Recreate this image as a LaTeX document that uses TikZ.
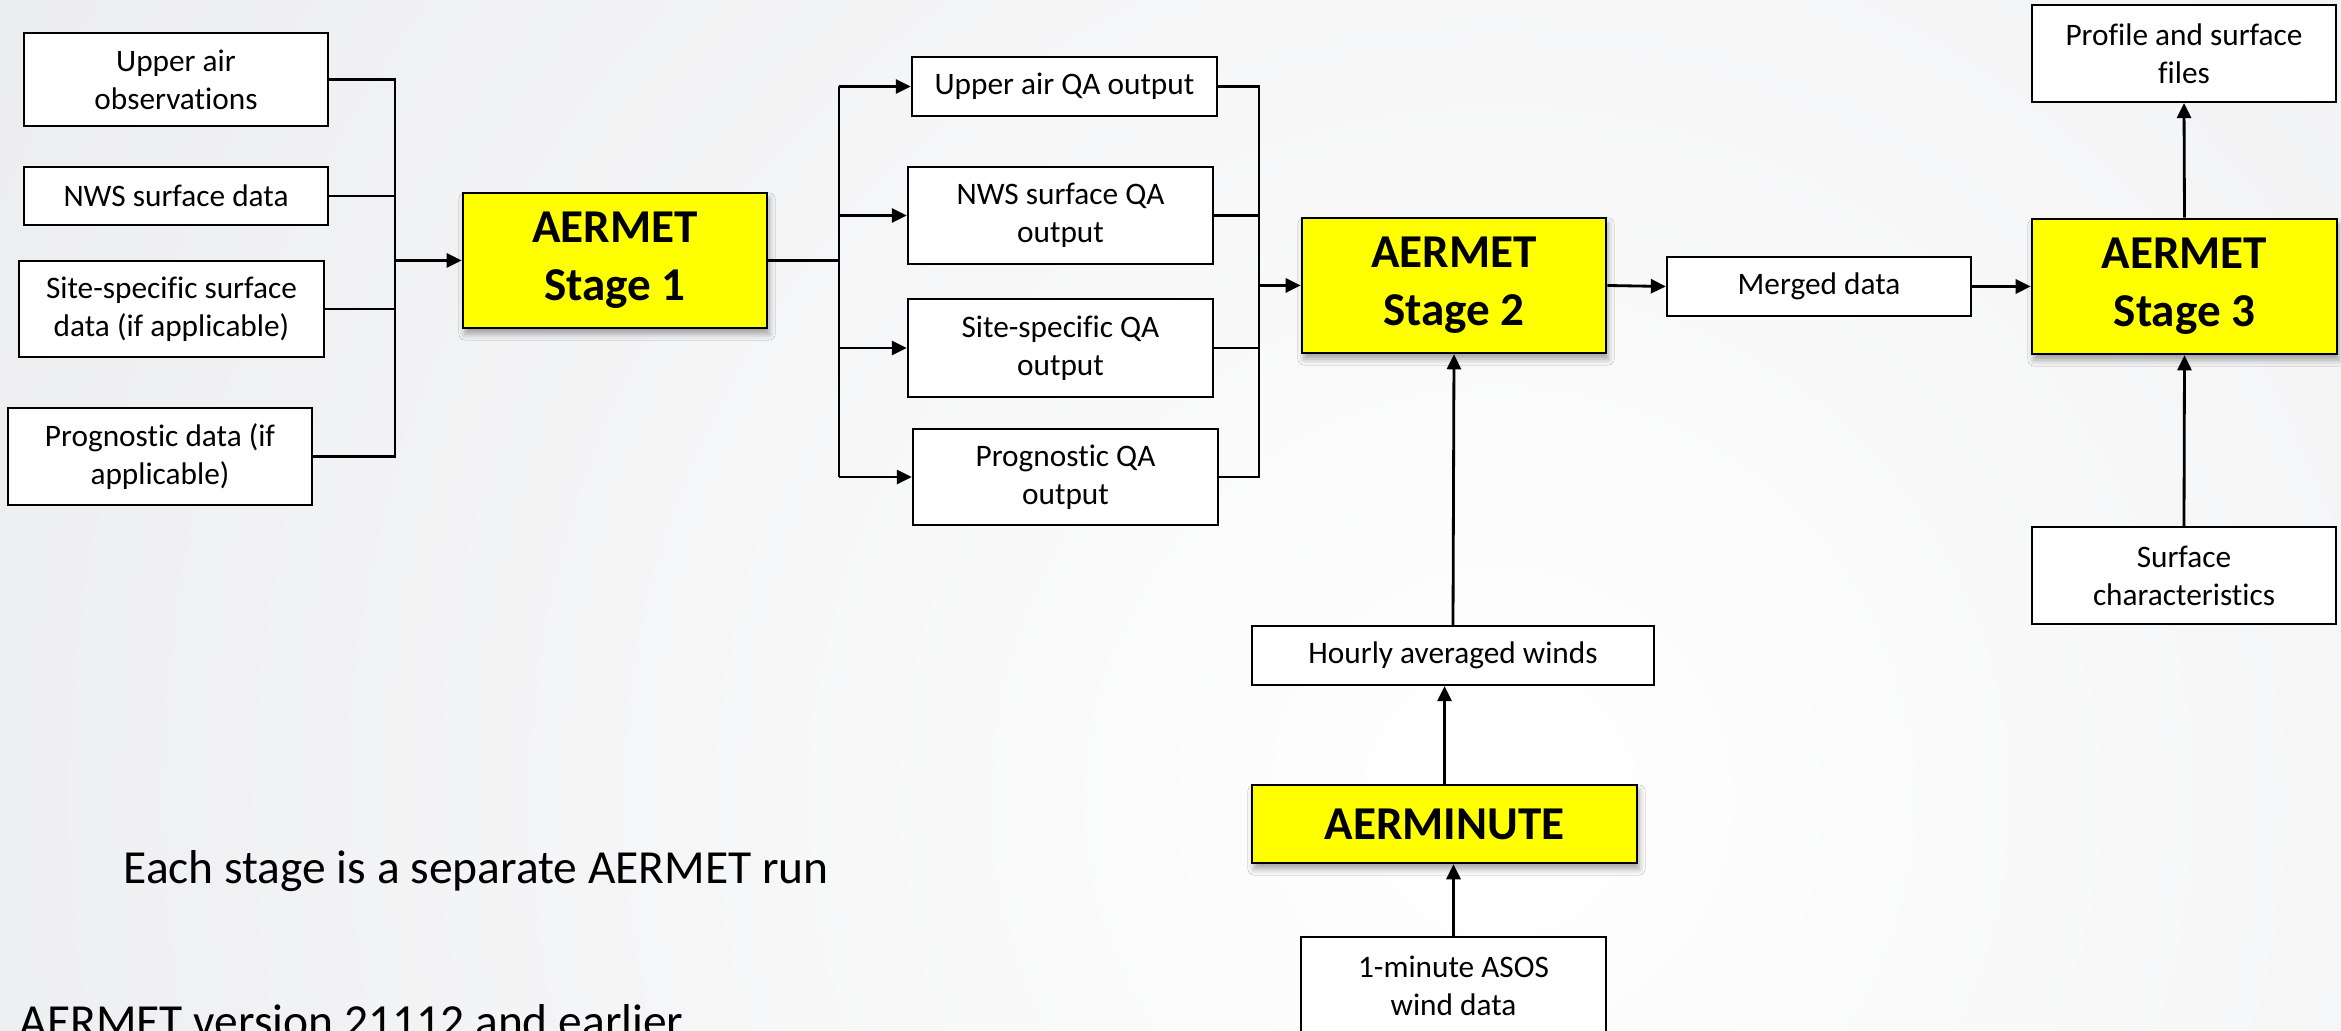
\documentclass[tikz,border=0pt]{standalone}
\usepackage{fontspec}
\setmainfont{Carlito}[Ligatures=NoCommon]
\usetikzlibrary{arrows.meta,shadows.blur}
\definecolor{bgg}{RGB}{228,229,232}
\definecolor{ayellow}{RGB}{255,255,0}
\tikzset{
  box/.style={draw=black, line width=0.6pt, fill=white, inner sep=0pt, align=center,
    font=\fontsize{8.9}{10.8}\selectfont},
  ybox/.style={draw=black, line width=0.7pt, fill=ayellow, inner sep=0pt, align=center,
    font=\bfseries\fontsize{13.4}{16.4}\selectfont,
    blur shadow={shadow xshift=0.02cm, shadow yshift=-0.06cm, shadow blur radius=0.06cm, shadow opacity=35}},
  conn/.style={line width=0.8pt, black},
  arr/.style={conn, -{Triangle[length=0.15cm, width=0.14cm]}},
  note/.style={anchor=base west, inner sep=0pt, font=\fontsize{13.5}{16}\selectfont}
}
\begin{document}
\begin{tikzpicture}[x=0.01cm, y=-0.01cm]
\useasboundingbox (0,0) rectangle (2341,1031);
\clip (0,0) rectangle (2341,1031);
% background
\fill[bgg] (0,0) rectangle (2341,1031);
\shade[inner color=white, outer color=bgg] (-900,-1600) rectangle (3900,3200);

% input boxes
\node[box, minimum width=3.04cm, minimum height=0.93cm] (ua) at (176,79.5) {Upper air\\observations};
\node[box, minimum width=3.04cm, minimum height=0.58cm] (nws) at (176,196) {NWS surface data};
\node[box, minimum width=3.05cm, minimum height=0.96cm] (site) at (171.5,309) {Site-specific surface\\data (if applicable)};
\node[box, minimum width=3.04cm, minimum height=0.97cm] (prog) at (160,456.5) {Prognostic data (if\\applicable)};

% stage 1
\node[ybox, minimum width=3.04cm, minimum height=1.35cm] (st1) at (615,260.5) {AERMET\\Stage 1};

% QA outputs
\node[box, minimum width=3.05cm, minimum height=0.59cm] (uaqa) at (1064.5,86.5) {Upper air QA output};
\node[box, minimum width=3.05cm, minimum height=0.97cm] (nwsqa) at (1060.5,215.5) {NWS surface QA\\output};
\node[box, minimum width=3.05cm, minimum height=0.98cm] (siteqa) at (1060.5,348) {Site-specific QA\\output};
\node[box, minimum width=3.05cm, minimum height=0.96cm] (progqa) at (1065.5,477) {Prognostic QA\\output};

% stage 2, 3
\node[ybox, minimum width=3.04cm, minimum height=1.35cm] (st2) at (1454,285.5) {AERMET\\Stage 2};
\node[box, minimum width=3.04cm, minimum height=0.59cm] (merged) at (1819,286.5) {Merged data};
\node[ybox, minimum width=3.05cm, minimum height=1.35cm] (st3) at (2184.5,286.5) {AERMET\\Stage 3};
\node[box, minimum width=3.04cm, minimum height=0.97cm] (prof) at (2184,53.5) {Profile and surface\\files};
\node[box, minimum width=3.04cm, minimum height=0.97cm] (surf) at (2184,575.5) {Surface\\characteristics};

% AERMINUTE chain
\node[box, minimum width=4.02cm, minimum height=0.59cm] (hourly) at (1453,655.5) {Hourly averaged winds};
\node[ybox, minimum width=3.85cm, minimum height=0.78cm] (aermin) at (1444.5,824) {AERMINUTE};
\node[box, minimum width=3.05cm, minimum height=0.97cm] (asos) at (1453.5,985.5) {1-minute ASOS\\wind data};

% notes
\node[note] (n1) at (123,884) {Each stage is a separate AERMET run};
\node[note] (n2) at (19,1038) {AERMET version 21112 and earlier};

% bus coordinates
\coordinate (b1) at (395,260.5);
\coordinate (b2) at (839,260.5);
\coordinate (b3) at (1259,285.5);

% left bus
\draw[conn] (ua.east) -- (b1 |- ua.east) -- (b1 |- prog.east) -- (prog.east);
\draw[conn] (nws.east) -- (b1 |- nws.east);
\draw[conn] (site.east) -- (b1 |- site.east);
\draw[arr] (b1) -- (st1.west);

% middle bus
\draw[conn] (st1.east) -- (b2);
\draw[conn] (b2 |- uaqa.west) -- (b2 |- progqa.west);
\draw[arr] (b2 |- uaqa.west) -- (uaqa.west);
\draw[arr] (b2 |- nwsqa.west) -- (nwsqa.west);
\draw[arr] (b2 |- siteqa.west) -- (siteqa.west);
\draw[arr] (b2 |- progqa.west) -- (progqa.west);

% right bus
\draw[conn] (uaqa.east) -- (b3 |- uaqa.east) -- (b3 |- progqa.east) -- (progqa.east);
\draw[conn] (nwsqa.east) -- (b3 |- nwsqa.east);
\draw[conn] (siteqa.east) -- (b3 |- siteqa.east);
\draw[arr] (b3) -- (st2.west);

% main chain
\draw[arr] (st2.east) -- (merged.west);
\draw[arr] (merged.east) -- (st3.west);
\draw[arr] (st3.north) -- (prof.south);
\draw[arr] (surf.north) -- (st3.south);

% AERMINUTE chain
\draw[arr] (hourly.north) -- (st2.south);
\draw[arr] (aermin.north) -- (aermin.north |- hourly.south);
\draw[arr] (asos.north) -- (asos.north |- aermin.south);
\end{tikzpicture}
\end{document}
